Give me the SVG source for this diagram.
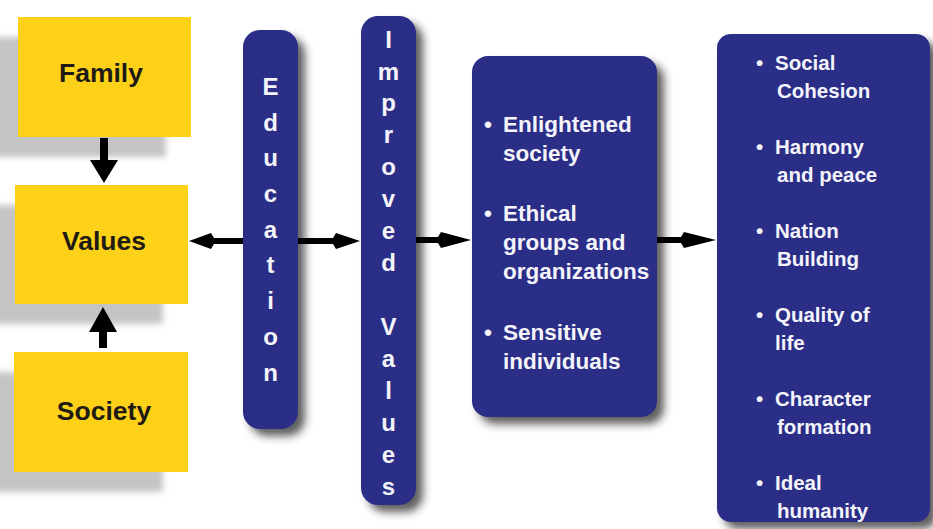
<svg xmlns="http://www.w3.org/2000/svg" width="933" height="529" viewBox="0 0 933 529">
<defs>
<filter id="soft" x="-30%" y="-30%" width="160%" height="160%"><feGaussianBlur stdDeviation="3"/></filter>
<filter id="dark" x="-40%" y="-20%" width="180%" height="140%"><feDropShadow dx="7" dy="7" stdDeviation="4" flood-color="#2a2a2a" flood-opacity="0.75"/></filter>
<style>
.ybox{fill:#FDD118}
.yshadow{fill:#c4c4c4}
.bbox{fill:#2B2D87}
.ylab{font-family:"Liberation Sans",Arial,sans-serif;font-weight:bold;font-size:26.5px;fill:#1F1A14;text-anchor:middle}
.vlab{font-family:"Liberation Sans",Arial,sans-serif;font-weight:bold;font-size:24px;fill:#f4f4fa;text-anchor:middle}
.mt{font-family:"Liberation Sans",Arial,sans-serif;font-weight:bold;font-size:22.5px;fill:#f4f4fa}
.rt{font-family:"Liberation Sans",Arial,sans-serif;font-weight:bold;font-size:20.5px;fill:#f4f4fa}
.arr{fill:#000000}
</style>
</defs>
<rect width="933" height="529" fill="#ffffff"/>

<g id="family">
<rect class="yshadow" x="-7" y="37" width="173" height="120" filter="url(#soft)"/>
<rect class="ybox" x="18" y="17" width="173" height="120"/>
<text class="ylab" x="101" y="82">Family</text>
</g>
<g id="values">
<rect class="yshadow" x="-10" y="205" width="173" height="119" filter="url(#soft)"/>
<rect class="ybox" x="15" y="185" width="173" height="119"/>
<text class="ylab" x="104" y="250">Values</text>
</g>
<g id="society">
<rect class="yshadow" x="-11" y="372" width="174" height="120" filter="url(#soft)"/>
<rect class="ybox" x="14" y="352" width="174" height="120"/>
<text class="ylab" x="104" y="420">Society</text>
</g>

<g id="education">
<rect class="bbox" x="243" y="30" width="55" height="399" rx="17" filter="url(#dark)"/>
<text class="vlab" x="270.5" y="95">E</text>
<text class="vlab" x="270.5" y="131">d</text>
<text class="vlab" x="270.5" y="166">u</text>
<text class="vlab" x="270.5" y="202">c</text>
<text class="vlab" x="270.5" y="238">a</text>
<text class="vlab" x="270.5" y="273">t</text>
<text class="vlab" x="270.5" y="309">i</text>
<text class="vlab" x="270.5" y="345">o</text>
<text class="vlab" x="270.5" y="381">n</text>
</g>

<g id="improved-values">
<rect class="bbox" x="361" y="16" width="55" height="489" rx="17" filter="url(#dark)"/>
<text class="vlab" x="388.5" y="48">I</text>
<text class="vlab" x="388.5" y="80">m</text>
<text class="vlab" x="388.5" y="111">p</text>
<text class="vlab" x="388.5" y="143">r</text>
<text class="vlab" x="388.5" y="175">o</text>
<text class="vlab" x="388.5" y="207">v</text>
<text class="vlab" x="388.5" y="239">e</text>
<text class="vlab" x="388.5" y="271">d</text>
<text class="vlab" x="388.5" y="335">V</text>
<text class="vlab" x="388.5" y="367">a</text>
<text class="vlab" x="388.5" y="399">l</text>
<text class="vlab" x="388.5" y="431">u</text>
<text class="vlab" x="388.5" y="463">e</text>
<text class="vlab" x="388.5" y="495">s</text>
</g>

<g id="outcomes">
<rect class="bbox" x="472" y="56" width="185" height="361" rx="16" filter="url(#dark)"/>
<text class="mt" x="484" y="132">•</text>
<text class="mt" x="503" y="132">Enlightened</text>
<text class="mt" x="503" y="161">society</text>
<text class="mt" x="484" y="221">•</text>
<text class="mt" x="503" y="221">Ethical</text>
<text class="mt" x="503" y="250">groups and</text>
<text class="mt" x="503" y="279">organizations</text>
<text class="mt" x="484" y="340">•</text>
<text class="mt" x="503" y="340">Sensitive</text>
<text class="mt" x="503" y="369">individuals</text>
</g>

<g id="benefits">
<rect class="bbox" x="717" y="34" width="213" height="488" rx="14" filter="url(#dark)"/>
<text class="rt" x="756" y="70">•</text>
<text class="rt" x="775" y="70">Social</text>
<text class="rt" x="777" y="98">Cohesion</text>
<text class="rt" x="756" y="154">•</text>
<text class="rt" x="775" y="154">Harmony</text>
<text class="rt" x="777" y="182">and peace</text>
<text class="rt" x="756" y="238">•</text>
<text class="rt" x="775" y="238">Nation</text>
<text class="rt" x="777" y="266">Building</text>
<text class="rt" x="756" y="322">•</text>
<text class="rt" x="775" y="322">Quality of</text>
<text class="rt" x="775" y="350">life</text>
<text class="rt" x="756" y="406">•</text>
<text class="rt" x="775" y="406">Character</text>
<text class="rt" x="777" y="434">formation</text>
<text class="rt" x="756" y="490">•</text>
<text class="rt" x="775" y="490">Ideal</text>
<text class="rt" x="777" y="518">humanity</text>
</g>

<g id="connectors">
<path class="arr" d="M100,138 H108 V160 H118 L104,183 L90,160 H100 Z"/>
<path class="arr" d="M99,348 H107 V332 H117 L103,307 L89,332 H99 Z"/>
<path class="arr" d="M243,238 H214 L211,233 L189,241 L211,249 L214,244 H243 Z"/>
<path class="arr" d="M298,238 H333 L336,233 L360,241 L336,249 L333,244 H298 Z"/>
<path class="arr" d="M416,237 H438 L441,232 L471,240 L441,248 L438,243 H416 Z"/>
<path class="arr" d="M657,237 H681 L684,232 L716,240 L684,248 L681,243 H657 Z"/>
</g>
</svg>
